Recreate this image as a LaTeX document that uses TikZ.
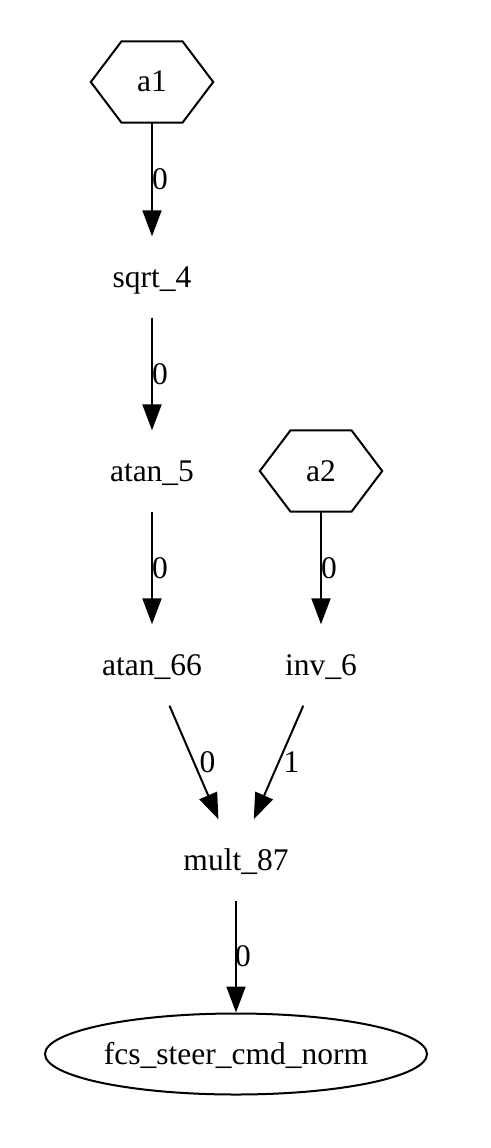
\documentclass[tikz,border=0pt]{standalone}
\usepackage{fontspec}
\setmainfont{Liberation Serif}
\usetikzlibrary{arrows.meta,shapes.geometric}
\begin{document}
\begin{tikzpicture}[x=1pt,y=-1pt,
  every node/.style={font=\fontsize{31.5}{36}\selectfont, inner sep=0pt},
  plain/.style={rectangle, minimum width=122pt, minimum height=81pt, text height=24pt, text depth=4pt},
  oval/.style={ellipse, draw, line width=2pt, minimum width=382pt, minimum height=81pt, text height=24pt, text depth=4pt},
  edge/.style={line width=2pt, -{Triangle[length=26pt,width=19pt]}},
  lab/.style={font=\fontsize{31.5}{36}\selectfont}
]
\useasboundingbox (0,0) rectangle (490,1148);
\node[plain] (a1) at (152,82) {a1};
\node[plain] (sqrt4) at (152,277) {sqrt\_4};
\node[plain] (atan5) at (152,471) {atan\_5};
\node[plain] (a2) at (321,471) {a2};
\node[plain] (atan66) at (152,665) {atan\_66};
\node[plain] (inv6) at (321,665) {inv\_6};
\node[plain] (mult87) at (236,860) {mult\_87};
\node[oval] (fcs) at (236,1054) {fcs\_steer\_cmd\_norm};
\foreach \h in {a1,a2}{
  \draw[line width=2pt, line join=miter] ([xshift=-30.5pt]\h.north) -- ([xshift=30.5pt]\h.north) -- (\h.east) -- ([xshift=30.5pt]\h.south) -- ([xshift=-30.5pt]\h.south) -- (\h.west) -- cycle;
}
\draw[edge] (a1) -- node[lab, xshift=8pt] {0} (sqrt4);
\draw[edge] (sqrt4) -- node[lab, xshift=8pt] {0} (atan5);
\draw[edge] (atan5) -- node[lab, xshift=8pt] {0} (atan66);
\draw[edge] (a2) -- node[lab, xshift=8pt] {0} (inv6);
\draw[edge] (atan66) -- node[lab, xshift=13.5pt] {0} (mult87);
\draw[edge] (inv6) -- node[lab, xshift=13pt] {1} (mult87);
\draw[edge] (mult87) -- node[lab, xshift=7pt] {0} (fcs);
\end{tikzpicture}
\end{document}
